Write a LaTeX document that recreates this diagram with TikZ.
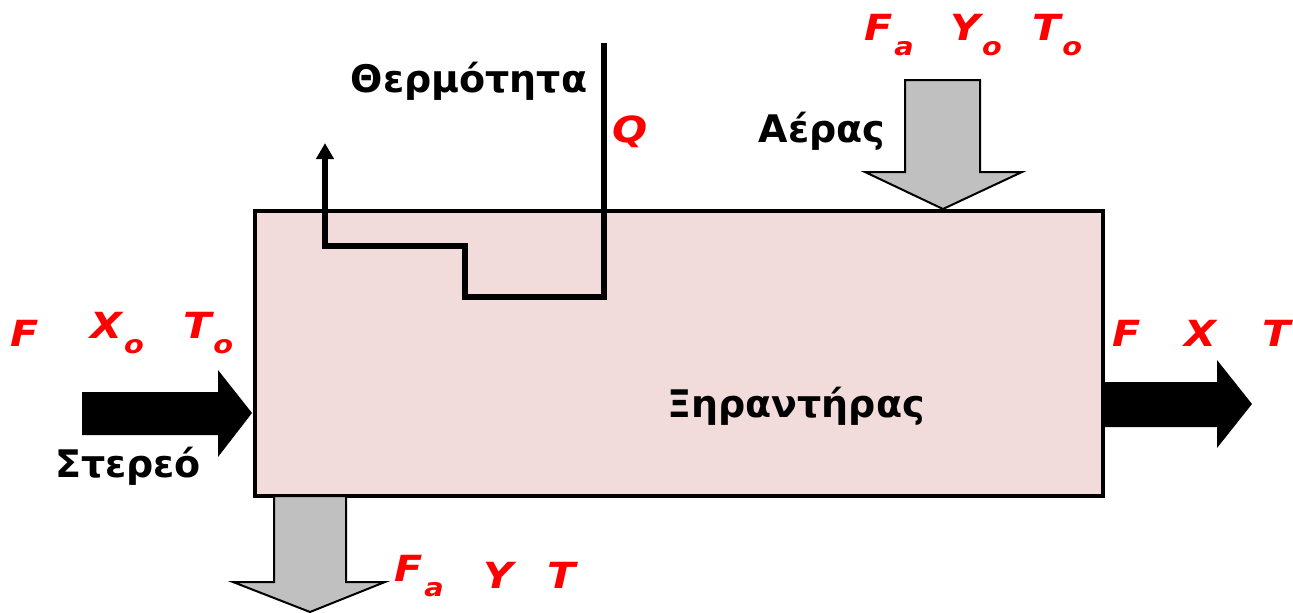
\documentclass[tikz,border=0pt]{standalone}
\usepackage{fontspec}
\setmainfont{DejaVu Sans}
\newfontfamily\redfont[FakeStretch=1.15]{DejaVu Sans}
\usetikzlibrary{arrows.meta}
\definecolor{boxpink}{HTML}{F2DCDB}
\definecolor{arrgrey}{HTML}{C0C0C0}
\definecolor{lblred}{HTML}{FF0000}
\newcommand{\sbs}[1]{\kern2pt\raisebox{-0.4em}{\fontsize{25}{25}\selectfont #1}}
\begin{document}
\begin{tikzpicture}[x=1pt,y=-1pt,
  greek/.style={font=\fontsize{38}{42}\selectfont\bfseries, text=black, inner sep=0pt},
  redlbl/.style={font=\redfont\fontsize{36}{40}\selectfont\bfseries\itshape, text=lblred, inner sep=0pt},
  greyarrow/.style={fill=arrgrey, draw=black, line width=2pt, line join=miter},
  blackarrow/.style={fill=black, draw=none},
  heat/.style={line width=5.5pt, line join=miter, -{Triangle[length=16pt,width=17pt]}}]
\useasboundingbox (0,0) rectangle (1293,613);
% dryer box
\node[draw=black, line width=4pt, fill=boxpink, minimum width=848pt, minimum height=285pt, inner sep=0pt, anchor=north west] (dryer) at (253,209) {};
% grey arrow in (air)
\draw[greyarrow] (905,80) -- (980,80) -- (980,172) -- (1022,172) -- (943,209) -- (865,172) -- (905,172) -- cycle;
% grey arrow out (bottom)
\draw[greyarrow] (274,496) -- (346,496) -- (346,582) -- (385,582) -- (310,612) -- (233,582) -- (274,582) -- cycle;
% black arrow in
\fill[blackarrow] (82,392) -- (218,392) -- (218,370) -- (252,413) -- (218,457) -- (218,435) -- (82,435) -- cycle;
% black arrow out
\fill[blackarrow] (1102,382) -- (1217,382) -- (1217,360) -- (1252,404) -- (1217,448) -- (1217,427) -- (1102,427) -- cycle;
% heat line
\coordinate (qtop) at (604,43);
\coordinate (heatend) at (325,143);
\draw[heat] (qtop) -- (604,297) -- (465,297) -- (465,246) -- (325,246) -- (heatend);
% texts
\node[greek] (therm) at (469,81) {Θερμότητα};
\node[greek] (aeras) at (822,131) {Αέρας};
\node[greek] (xir) at (796,406) {Ξηραντήρας};
\node[greek] (ster) at (128,466) {Στερεό};
% red labels
\node[redlbl, anchor=west] (q) at (612,132) {Q};
\node[redlbl, anchor=west] (fin) at (10,333) {F};
\node[redlbl, anchor=west] (xin) at (90,333) {X\sbs{o}};
\node[redlbl, anchor=west] (tin) at (183,333) {T\sbs{o}};
\node[redlbl, anchor=west] (fout) at (1112,333) {F};
\node[redlbl, anchor=west] (xout) at (1184,333) {X};
\node[redlbl, anchor=west] (tout) at (1262,333) {T};
\node[redlbl, anchor=west] (fa) at (864,35) {F\sbs{a}};
\node[redlbl, anchor=west] (ya) at (950,35) {Y\sbs{o}};
\node[redlbl, anchor=west] (ta) at (1032,35) {T\sbs{o}};
\node[redlbl, anchor=west] (fb) at (394,576) {F\sbs{a}};
\node[redlbl, anchor=west] (yb) at (483,575) {Y};
\node[redlbl, anchor=west] (tb) at (547,575) {T};
\end{tikzpicture}
\end{document}
